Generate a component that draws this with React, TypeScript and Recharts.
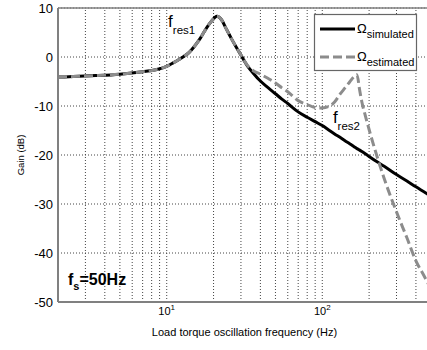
import React from 'react';
import {
  LineChart,
  Line,
  XAxis,
  YAxis,
  CartesianGrid,
  ReferenceLine,
  ReferenceDot,
  Label,
} from 'recharts';

// Bode magnitude: simulated vs estimated speed response to load torque oscillation

const FONT = '"Liberation Sans", Arial, Helvetica, sans-serif';

const freqHz = [
  2, 2.5, 3.5, 5, 7, 8.5, 10, 11, 12, 13, 14, 15, 16.5, 18, 19.5, 21, 22.5, 24, 26, 28, 30, 33,
  36, 40, 45, 50, 55, 60, 70, 80, 90, 100, 110, 120, 130, 140, 150, 160, 167, 174, 180, 190, 200,
  225, 250, 300, 350, 400, 450, 500,
];

const simulatedDb = [
  -4.1, -4.0, -3.8, -3.5, -3.0, -2.6, -1.9, -1.2, -0.5, 0.2, 1.0, 2.1, 3.9, 5.9, 7.4, 8.3, 7.6,
  5.9, 3.8, 2.0, 0.4, -1.8, -3.3, -4.9, -6.3, -7.5, -8.6, -9.5, -11.2, -12.3, -13.2, -14.0,
  -14.9, -15.7, -16.4, -17.1, -17.7, -18.3, -18.7, -19.0, -19.3, -19.8, -20.3, -21.4, -22.3,
  -24.0, -25.3, -26.5, -27.5, -28.4,
];

const estimatedDb = [
  -4.1, -4.0, -3.8, -3.5, -3.0, -2.6, -1.9, -1.2, -0.5, 0.2, 1.0, 2.1, 3.9, 5.9, 7.4, 8.3, 7.6,
  5.9, 3.8, 2.0, 0.4, -1.7, -2.8, -3.5, -4.4, -5.3, -6.3, -7.1, -8.9, -9.7, -10.3, -10.4, -10.1,
  -9.2, -7.6, -6.3, -5.1, -4.0, -3.6, -6.8, -9.3, -12.2, -14.8, -20.3, -24.8, -31.6, -36.9,
  -41.6, -44.6, -47.3,
];

const gainTicks = [-50, -40, -30, -20, -10, 0, 10];
const decadeTicks = [10, 100];
const minorGridHz = [3, 4, 5, 6, 7, 8, 9, 10, 20, 30, 40, 50, 60, 70, 80, 90, 100, 200, 300, 400];

const data = freqHz.map((f, i) => ({ f, sim: simulatedDb[i], est: estimatedDb[i] }));

const GRID = '#444';
const AXIS = '#808080';
const GREY_LINE = '#8c8c8c';

function DecadeTick({ x, y, payload }: any) {
  const exp = Math.round(Math.log10(payload.value));
  return (
    <text x={x} y={y} textAnchor="middle" fontSize={11} fontFamily={FONT} fill="#000">
      <tspan>10</tspan>
      <tspan dy={-5} fontSize={8}>
        {exp}
      </tspan>
    </text>
  );
}

function GainLabel({ viewBox }: any) {
  const cy = viewBox.y + viewBox.height / 2;
  return (
    <text
      x={21}
      y={cy}
      transform={`rotate(-90 21 ${cy})`}
      textAnchor="middle"
      dominantBaseline="middle"
      fontSize={9.5}
      fontFamily={FONT}
      fill="#000"
    >
      Gain (dB)
    </text>
  );
}

// "f_res" style annotation, drawn with the baseline of "f" at the anchor point
function ResNote({ cx, cy, sub }: any) {
  return (
    <text x={cx} y={cy} fontFamily={FONT} fill="#000">
      <tspan fontSize={17}>f</tspan>
      <tspan fontSize={11.5} dy={6.5}>
        {sub}
      </tspan>
    </text>
  );
}

function FsNote({ cx, cy }: any) {
  return (
    <text x={cx} y={cy} fontFamily={FONT} fontWeight="bold" fill="#000">
      <tspan fontSize={16}>f</tspan>
      <tspan fontSize={11} dy={5}>
        s
      </tspan>
      <tspan fontSize={16} dy={-5}>
        =50Hz
      </tspan>
    </text>
  );
}

function LegendBox() {
  return (
    <svg
      width={427}
      height={350}
      style={{ position: 'absolute', left: 0, top: 0, pointerEvents: 'none' }}
    >
      <rect x={314.5} y={14.5} width={102} height={56} fill="#fff" stroke="#666" strokeWidth={1.2} />
      <line x1={320} y1={29} x2={355} y2={29} stroke="#000" strokeWidth={3} />
      <line
        x1={320}
        y1={57}
        x2={355}
        y2={57}
        stroke={GREY_LINE}
        strokeWidth={3}
        strokeDasharray="9 4"
      />
      <text x={357} y={33} fontFamily={FONT} fill="#000">
        <tspan fontSize={13}>Ω</tspan>
        <tspan fontSize={11} dy={5}>
          simulated
        </tspan>
      </text>
      <text x={357} y={61} fontFamily={FONT} fill="#000">
        <tspan fontSize={13}>Ω</tspan>
        <tspan fontSize={11} dy={5}>
          estimated
        </tspan>
      </text>
    </svg>
  );
}

export default function App() {
  return (
    <div
      style={{
        position: 'absolute',
        left: 0,
        top: 0,
        width: 427,
        height: 350,
        overflow: 'hidden',
        background: '#fff',
        fontFamily: FONT,
      }}
    >
      <LineChart width={435} height={350} data={data} margin={{ top: 8, right: 4, left: 0, bottom: 0 }}>
        <CartesianGrid vertical={false} stroke={GRID} strokeDasharray="1 2" />
        {minorGridHz.map((v) => (
          <ReferenceLine key={v} x={v} stroke={GRID} strokeDasharray="1 2" />
        ))}
        <ReferenceLine y={10} stroke={AXIS} strokeWidth={1.5} />
        <XAxis
          dataKey="f"
          type="number"
          scale="log"
          domain={[2, 500]}
          allowDataOverflow
          ticks={decadeTicks}
          height={48}
          stroke={AXIS}
          axisLine={{ stroke: AXIS, strokeWidth: 2 }}
          tickLine={false}
          tickSize={4}
          tickMargin={9}
          tick={<DecadeTick />}
        >
          <Label
            value="Load torque oscillation frequency (Hz)"
            position="insideBottom"
            offset={14}
            fontSize={11}
            fill="#000"
            fontFamily={FONT}
          />
        </XAxis>
        <YAxis
          type="number"
          domain={[-50, 10]}
          ticks={gainTicks}
          width={58}
          axisLine={{ stroke: AXIS, strokeWidth: 2 }}
          tickLine={false}
          tickSize={3}
          tickMargin={2}
          tick={{ fontSize: 13, fill: '#000', fontFamily: FONT }}
        >
          <Label content={<GainLabel />} />
        </YAxis>
        <Line
          dataKey="sim"
          type="monotone"
          stroke="#000"
          strokeWidth={3}
          dot={false}
          isAnimationActive={false}
        />
        <Line
          dataKey="est"
          type="monotone"
          stroke={GREY_LINE}
          strokeWidth={3}
          strokeDasharray="9 4"
          dot={false}
          isAnimationActive={false}
        />
        <ReferenceDot x={10.2} y={6.1} r={0} shape={(p: any) => <ResNote {...p} sub="res1" />} />
        <ReferenceDot x={117} y={-13.5} r={0} shape={(p: any) => <ResNote {...p} sub="res2" />} />
        <ReferenceDot x={2.32} y={-46.5} r={0} shape={(p: any) => <FsNote {...p} />} />
      </LineChart>
      <LegendBox />
    </div>
  );
}
